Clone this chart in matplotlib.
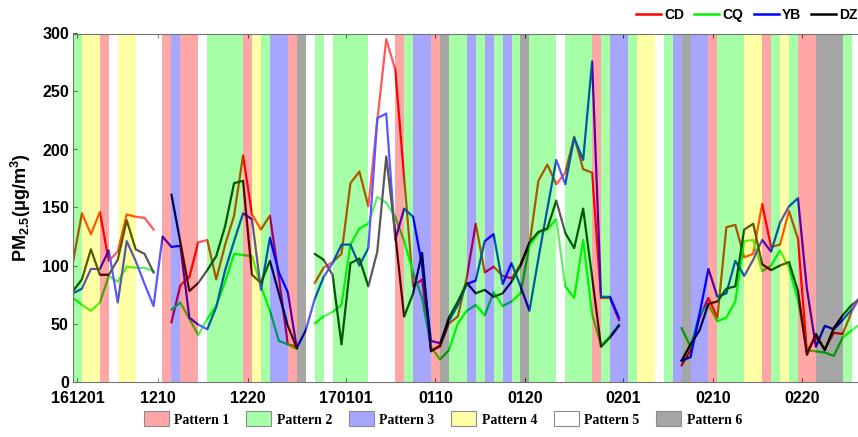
import numpy as np
import matplotlib
matplotlib.use('Agg')
import matplotlib.pyplot as plt
from matplotlib.lines import Line2D
from matplotlib.patches import Patch
from matplotlib.colors import to_rgb

nan = np.nan

# daily PM2.5 per city, gaps are missing days
cd = [103, 145, 127, 146, 104, 112, 144, 142, 141, 131, nan, 51, 83, 90, 120, 122, 88, 118, 143, 195,
      144, 131, 143, 90, 32, 30, nan, 85, 98, 103, 110, 171, 181, 151, 225, 295, 269, 176, 82, 88,
      27, 30, 50, 56, 90, 136, 94, 99, 91, 89, 101, 118, 173, 187, 170, 180, 211, 183, 180, 72,
      72, 53, nan, nan, nan, nan, nan, nan, 14, 27, 55, 72, 55, 133, 135, 107, 110, 153, 116, 118,
      147, 123, 26, 38, 28, 42, 41, 60, 74]
cq = [72, 66, 61, 68, 91, 86, 99, 98, 98, 95, nan, 62, 68, 54, 40, 54, 65, 86, 110, 109,
      108, 82, 61, 35, 32, 28, nan, 50, 56, 60, 66, 118, 132, 136, 159, 154, 142, 121, 94, 72,
      30, 19, 27, 50, 61, 66, 57, 77, 65, 69, 76, 117, 128, 131, 140, 82, 72, 122, 58, 31,
      39, 49, nan, nan, nan, nan, nan, nan, 46, 30, 58, 66, 52, 55, 69, 121, 122, 95, 100, 113,
      98, 70, 27, 26, 25, 22, 38, 44, 50]
yb = [76, 80, 97, 97, 113, 68, 121, 104, 84, 65, 125, 116, 117, 55, 49, 45, 64, 96, 121, 145,
      140, 79, 124, 94, 77, 29, 44, 71, 90, 102, 118, 118, 100, 115, 227, 231, 122, 149, 142, 100,
      35, 33, 52, 66, 84, 87, 121, 127, 84, 102, 82, 61, 106, 149, 191, 170, 210, 191, 276, 73,
      73, 55, nan, nan, nan, nan, nan, nan, 18, 21, 58, 97, 73, 76, 104, 91, 105, 122, 112, 137,
      151, 158, 80, 30, 48, 45, 53, 62, 74]
dz = [78, 88, 114, 92, 92, 105, 139, 114, 110, 94, nan, 161, 120, 78, 85, 96, 108, 134, 171, 173,
      92, 85, 104, 76, 48, 29, nan, 110, 105, 92, 32, 102, 106, 82, 112, 194, 127, 56, 76, 111,
      26, 31, 55, 69, 85, 76, 79, 73, 76, 86, 100, 120, 129, 132, 156, 128, 115, 149, 90, 30,
      38, 48, nan, nan, nan, nan, nan, nan, 18, 32, 44, 67, 69, 80, 82, 131, 136, 101, 96, 100,
      103, 78, 23, 41, 27, 46, 57, 66, 72]

# weather pattern of each day (1..6)
patterns = [2, 4, 4, 1, 5, 4, 4, 5, 5, 5, 1, 3, 1, 1, 5, 2, 2, 2, 2, 1,
            4, 2, 3, 3, 1, 6, 5, 2, 5, 2, 2, 2, 2, 5, 5, 5, 1, 2, 3, 3,
            1, 6, 2, 2, 3, 2, 3, 2, 3, 2, 6, 2, 2, 2, 5, 2, 2, 2, 1, 2,
            3, 3, 2, 4, 4, 5, 2, 3, 6, 3, 3, 1, 2, 2, 2, 4, 4, 1, 2, 4,
            2, 1, 1, 6, 6, 6, 2, 5]

tick_pos = [0.5, 9.5, 19.5, 30.5, 40.5, 50.5, 61.5, 71.5, 81.5]
tick_labels = ['161201', '1210', '1220', '170101', '0110', '0120', '0201', '0210', '0220']

series = [('CD', cd, 'red'), ('CQ', cq, '#00ee00'), ('YB', yb, 'blue'), ('DZ', dz, 'black')]
pattern_colors = {1: 'red', 2: '#00ff00', 3: 'blue', 4: 'yellow', 5: 'white', 6: 'black'}
band_alpha = 0.35

plt.rcParams['font.family'] = 'Liberation Sans'
plt.rcParams['mathtext.fontset'] = 'custom'
plt.rcParams['mathtext.rm'] = 'Liberation Sans:bold'
plt.rcParams['mathtext.it'] = 'Liberation Sans:bold'
plt.rcParams['mathtext.bf'] = 'Liberation Sans:bold'

fig = plt.figure(figsize=(8.58, 4.37), dpi=100)
ax = fig.add_axes([73 / 858, 1 - 381.5 / 437, 90 * 8.95 / 858, 348 / 437])

x = np.arange(len(cd))
for name, vals, col in series:
    ax.plot(x, vals, color=col, lw=1.6, zorder=1)

# pattern bands are laid over the lines, semi-transparent
for k, p in enumerate(patterns):
    ax.axvspan(k, k + 1, color=pattern_colors[p], alpha=band_alpha, lw=0, zorder=2)

ax.set_xlim(0, 90)
ax.set_ylim(0, 300)
ax.set_yticks(range(0, 301, 50))
ax.set_xticks(tick_pos)
ax.set_xticklabels(tick_labels)
ax.tick_params(direction='in', top=True, right=True, length=3, width=0.8,
               color='0.3', labelsize=11.5)
ax.tick_params(axis='x', pad=7)
ax.tick_params(axis='y', pad=3)
for lab in ax.get_xticklabels() + ax.get_yticklabels():
    lab.set_fontweight('bold')
for s in ax.spines.values():
    s.set_color('0.45')
    s.set_linewidth(0.8)

fig.text(21 / 858, 1 - 208 / 437, 'PM$_{2.5}$(\u03bcg/m$^3$)', rotation=90,
         ha='center', va='center', fontsize=13, fontweight='bold')

handles = [Line2D([], [], color=c, lw=1.8) for _, _, c in series]
fig.legend(handles, [n for n, _, _ in series], ncol=4, loc='center right',
           bbox_to_anchor=(0.999, 1 - 15 / 437), frameon=False,
           prop={'weight': 'bold', 'size': 10}, handlelength=1.8,
           handletextpad=0.2, columnspacing=0.75, borderpad=0, borderaxespad=0)

def blend(c):
    r, g, b = to_rgb(c)
    return (1 - band_alpha * (1 - r), 1 - band_alpha * (1 - g), 1 - band_alpha * (1 - b))

p_handles = [Patch(facecolor=blend(pattern_colors[p]), edgecolor='0.55', lw=0.8) for p in range(1, 7)]
fig.legend(p_handles, ['Pattern %d' % p for p in range(1, 7)], ncol=6, loc='center',
           bbox_to_anchor=(0.516, 1 - 419 / 437), frameon=False,
           prop={'family': 'Liberation Serif', 'weight': 'bold', 'size': 10}, handlelength=1.8,
           handleheight=1.25, handletextpad=0.4, columnspacing=1.2, borderpad=0)

fig.savefig('out.png', dpi=100)
